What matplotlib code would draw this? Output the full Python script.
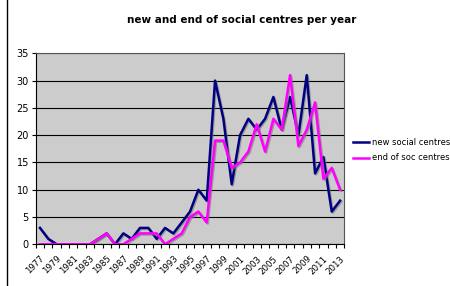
import matplotlib
matplotlib.use("Agg")
import matplotlib.pyplot as plt
import matplotlib.patheffects as pe
from matplotlib.lines import Line2D

# data
years = list(range(1977, 2014))
new_centres = [3, 1, 0, 0, 0, 0, 0, 1, 2, 0, 2, 1, 3, 3, 1, 3, 2, 4, 6, 10,
               8, 30, 23, 11, 20, 23, 21, 23, 27, 21, 27, 20, 31, 13, 16, 6, 8]
end_centres = [0, 0, 0, 0, 0, 0, 0, 1, 2, 0, 0, 1, 2, 2, 2, 0, 1, 2, 5, 6,
               4, 19, 19, 14, 15, 17, 22, 17, 23, 21, 31, 18, 21, 26, 12, 14, 10]
series_names = ['new social centres', 'end of soc centres']
title = 'new and end of social centres per year'

fig = plt.figure(figsize=(4.5, 2.86), dpi=100)
ax = fig.add_axes([0.0796, 0.1458, 0.6854, 0.6678])
ax.set_facecolor('#cccccc')

x = list(range(len(years)))
shadow = [pe.SimpleLineShadow(offset=(0.8, -0.8), shadow_color='#777777', alpha=0.6), pe.Normal()]
ax.plot(x, new_centres, color='#000080', lw=1.8, label=series_names[0], path_effects=shadow)
ax.plot(x, end_centres, color='#ff00ff', lw=1.8, label=series_names[1], path_effects=shadow)

ax.set_xlim(-0.5, len(years) - 0.5)
ax.set_ylim(0, 35)
ax.set_yticks(range(0, 36, 5))
ax.yaxis.grid(True, color='black', lw=0.8)
ax.set_axisbelow(True)
ax.tick_params(axis='y', labelsize=7, length=3, width=0.8, pad=2)

# tick marks between categories, labels on every other year
ax.set_xticks([i - 0.5 for i in range(len(years) + 1)])
ax.set_xticklabels([])
ax.tick_params(axis='x', which='major', length=3, width=0.8)
ax.set_xticks(x[::2], minor=True)
ax.set_xticklabels([str(y) for y in years[::2]], minor=True, rotation=45,
                   ha='right', rotation_mode='anchor', fontsize=6.2)
ax.tick_params(axis='x', which='minor', length=0, pad=7)

for s in ['top', 'right']:
    ax.spines[s].set_color('#555555')
    ax.spines[s].set_linewidth(0.8)
for s in ['left', 'bottom']:
    ax.spines[s].set_color('black')
    ax.spines[s].set_linewidth(0.8)

fig.text(0.536, 0.93, title, ha='center', va='center', fontsize=7.5, fontweight='bold')

handles = [Line2D([], [], color='#000080', lw=1.8), Line2D([], [], color='#ff00ff', lw=1.8)]
fig.legend(handles, series_names, loc='center left', bbox_to_anchor=(0.784, 0.475),
           frameon=False, fontsize=6, borderpad=0, borderaxespad=0,
           handlelength=2.0, handletextpad=0.3, labelspacing=0.8)

# chart area border on the left
fig.add_artist(Line2D([7 / 450, 7 / 450], [0, 1], color='black', lw=1))

fig.savefig('out.png', dpi=100)
